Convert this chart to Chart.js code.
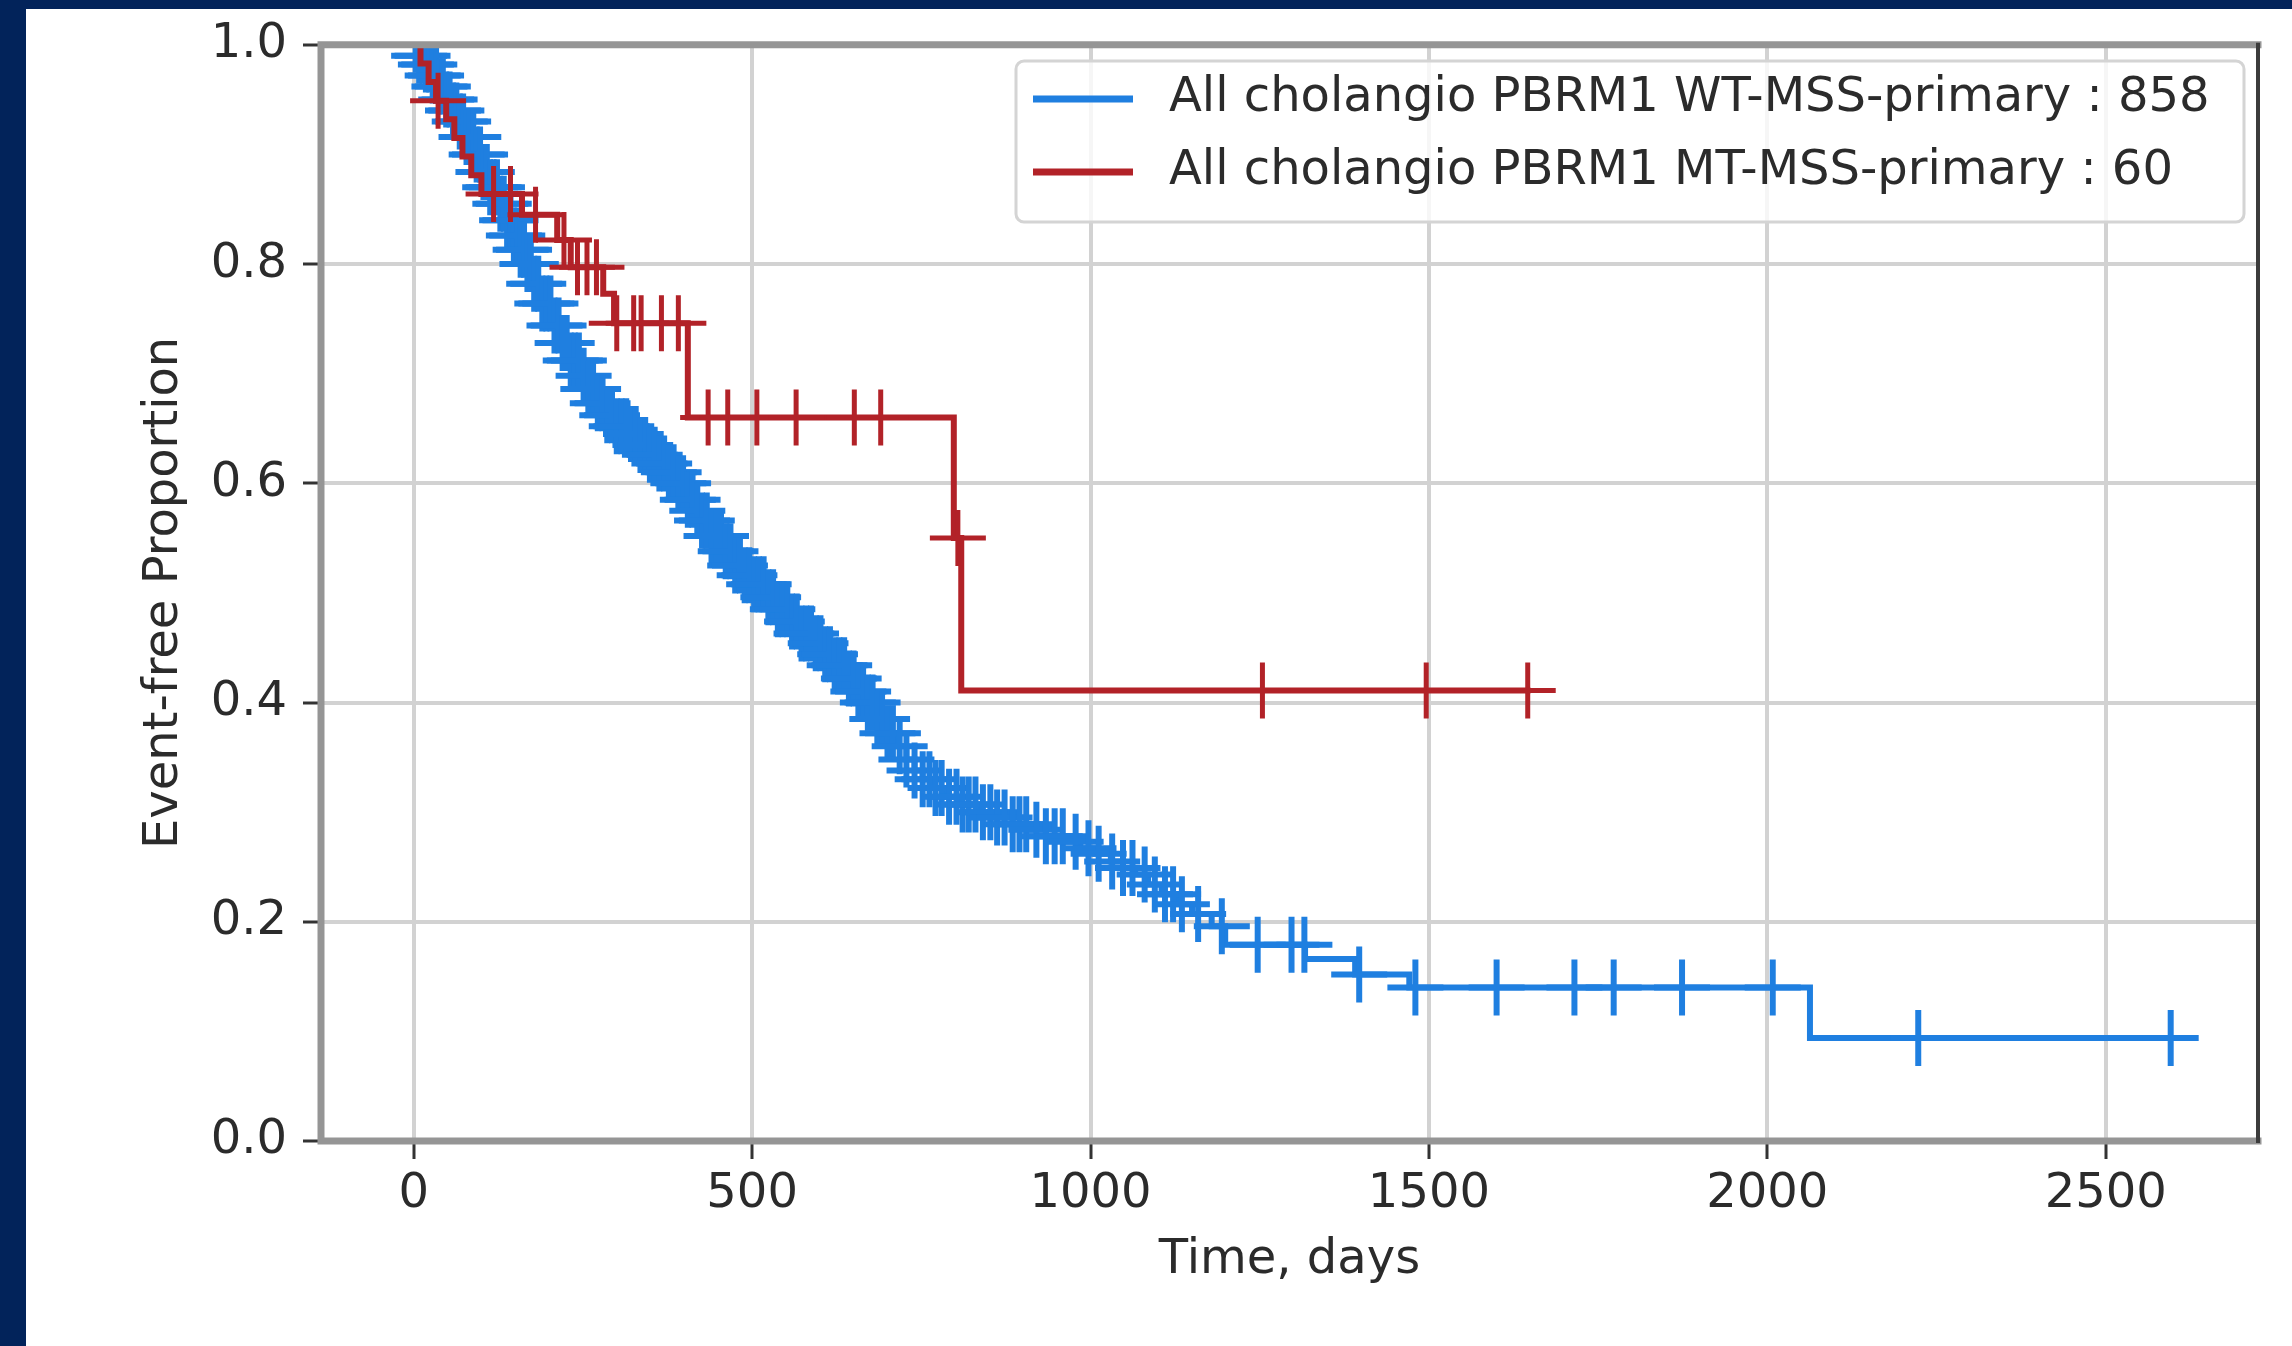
<!DOCTYPE html>
<html>
<head>
<meta charset="utf-8">
<script src="https://cdn.jsdelivr.net/npm/chart.js@4.4.1/dist/chart.umd.min.js"></script>
<style>
  html, body { margin: 0; padding: 0; background: #fff; overflow: hidden; }
  #wrap { position: relative; width: 2292px; height: 1346px; }
  #km { display: block; }
  .bar { position: absolute; background: #02235a; }
  #topbar { left: 0; top: 0; width: 2292px; height: 9px; }
  #leftbar { left: 0; top: 0; width: 26px; height: 1346px; }
</style>
</head>
<body>
<div id="wrap">
  <canvas id="km" width="2292" height="1346"></canvas>
  <div class="bar" id="topbar"></div>
  <div class="bar" id="leftbar"></div>
</div>
<script>
const seriesNames = [
  "All cholangio PBRM1 WT-MSS-primary : 858",
  "All cholangio PBRM1 MT-MSS-primary : 60",
];
const xTicks = [0, 500, 1000, 1500, 2000, 2500];
const yTicks = [0, 0.2, 0.4, 0.6, 0.8, 1.0];

// WT group: step times (days) and event-free proportion from each time on
const blueTimes = [0, 8, 16, 25, 35, 45, 55, 65, 78, 90, 102, 113, 124, 135, 145, 155, 166, 178, 190, 205,
  218, 232, 245, 256, 270, 285, 300, 315, 332, 347, 362, 376, 391, 405, 414, 423, 440, 458, 475, 488,
  501, 520, 538, 555, 572, 590, 606, 622, 638, 655, 670, 685, 700, 714, 728, 740, 752, 765, 787, 810,
  835, 860, 885, 910, 934, 960, 985, 1007, 1030, 1048, 1066, 1085, 1105, 1129, 1150, 1179, 1199, 1317,
  1391, 1471, 2063, 2596];
const blueSurv = [1.0, 0.99, 0.982, 0.972, 0.962, 0.950, 0.940, 0.930, 0.916, 0.900, 0.884, 0.870, 0.855, 0.840, 0.826, 0.813, 0.800, 0.782, 0.764, 0.744,
  0.728, 0.712, 0.698, 0.686, 0.673, 0.662, 0.652, 0.645, 0.635, 0.626, 0.618, 0.610, 0.600, 0.585, 0.575, 0.566, 0.552, 0.538, 0.525, 0.516,
  0.508, 0.496, 0.485, 0.474, 0.463, 0.454, 0.444, 0.434, 0.422, 0.410, 0.400, 0.385, 0.372, 0.360, 0.348, 0.338, 0.330, 0.322, 0.314, 0.307,
  0.300, 0.295, 0.289, 0.284, 0.278, 0.273, 0.267, 0.262, 0.255, 0.249, 0.243, 0.234, 0.225, 0.216, 0.207, 0.196, 0.179, 0.166,
  0.152, 0.140, 0.094, 0.094];
// censored times for WT (dense early on, which gives the thick band)
const blueCensor = [3, 8, 13, 18, 23, 28, 33, 38, 43, 48, 53, 58, 63, 68, 73, 78, 83, 88, 93, 98,
  103, 108, 113, 118, 123, 128, 133, 138, 143, 148, 153, 158, 163, 168, 173, 178, 184, 190, 196, 202,
  208, 214, 220, 226, 232, 238, 244, 251, 258, 265, 272, 279, 286, 293, 300, 307, 314, 321, 328, 335,
  342, 349, 356, 363, 370, 377, 384, 391, 398, 405, 412, 419, 426, 433, 440, 447, 454, 461, 468, 475,
  482, 489, 496, 503, 510, 517, 524, 531, 538, 545, 552, 559, 566, 573, 580, 587, 594, 601, 608, 615,
  622, 629, 636, 643, 650, 657, 664, 671, 678, 685, 692, 700, 708, 718, 728, 740, 752, 762, 771, 780,
  791, 802, 811, 820, 830, 841, 852, 862, 873, 885, 895, 905, 920, 934, 947, 959, 978, 997, 1012, 1032,
  1048, 1062, 1080, 1095, 1110, 1122, 1135, 1159, 1194, 1247, 1297, 1316, 1397, 1480, 1600, 1715, 1773, 1874,
  2008, 2223, 2596];

// MT group
const redTimes = [0, 10, 22, 33, 48, 60, 72, 85, 100, 160, 212, 232, 280, 296, 405, 798, 809, 1650];
const redSurv = [1.0, 0.983, 0.966, 0.949, 0.932, 0.915, 0.898, 0.881, 0.864, 0.845, 0.822, 0.797, 0.773, 0.746, 0.660, 0.550, 0.411, 0.411];
const redCensor = [36, 118, 143, 180, 222, 242, 256, 270, 300, 325, 336, 366, 391, 435, 464, 507, 565, 651, 690, 804, 1254, 1496, 1646];

const BLUE = "#1f7fe0";
const RED = "#b22228";

function steps(times, surv) {
  return times.map((t, i) => ({ x: t, y: surv[i] }));
}
function survAt(times, surv, t) {
  let s = surv[0];
  for (let i = 0; i < times.length; i++) {
    if (times[i] <= t) s = surv[i];
  }
  return s;
}
function marks(times, surv, cens) {
  return cens.map(t => ({ x: t, y: survAt(times, surv, t) }));
}

Chart.defaults.font.family = "'DejaVu Sans', sans-serif";
Chart.defaults.font.size = 48;
Chart.defaults.color = "#2b2b2b";

// spines + legend box, drawn on top of the curves
const framePlugin = {
  id: "frame",
  afterDatasetsDraw(chart) {
    const { ctx, chartArea: a } = chart;
    ctx.save();
    ctx.lineCap = "square";
    ctx.strokeStyle = "#959595";
    ctx.lineWidth = 7;
    ctx.beginPath();
    ctx.moveTo(a.left, a.bottom);
    ctx.lineTo(a.left, a.top);
    ctx.lineTo(a.right, a.top);
    ctx.moveTo(a.left, a.bottom);
    ctx.lineTo(a.right, a.bottom);
    ctx.stroke();
    ctx.strokeStyle = "#3c3c3c";
    ctx.lineWidth = 4;
    ctx.beginPath();
    ctx.moveTo(a.right, a.top);
    ctx.lineTo(a.right, a.bottom);
    ctx.stroke();

    // legend
    ctx.fillStyle = "rgba(255,255,255,0.8)";
    ctx.strokeStyle = "#d4d4d4";
    ctx.lineWidth = 3;
    ctx.beginPath();
    ctx.roundRect(1016, 61, 1228, 161, 8);
    ctx.fill();
    ctx.stroke();
    const rows = [
      { ds: chart.data.datasets[2], y: 99 },
      { ds: chart.data.datasets[0], y: 172 },
    ];
    ctx.font = "48px 'DejaVu Sans'";
    ctx.textBaseline = "middle";
    ctx.textAlign = "left";
    rows.forEach(r => {
      ctx.strokeStyle = r.ds.borderColor;
      ctx.lineWidth = 7;
      ctx.lineCap = "butt";
      ctx.beginPath();
      ctx.moveTo(1033, r.y);
      ctx.lineTo(1133, r.y);
      ctx.stroke();
      ctx.fillStyle = "#2b2b2b";
      ctx.fillText(r.ds.label, 1169, r.y);
    });
    ctx.restore();
  },
};

const gridOpts = {
  color: "#d2d2d2",
  lineWidth: 4,
  tickLength: 18,
  tickColor: "#333",
  tickWidth: 3,
};

new Chart(document.getElementById("km"), {
  type: "scatter",
  data: {
    datasets: [
      {
        label: seriesNames[1],
        data: steps(redTimes, redSurv),
        showLine: true,
        stepped: "before",
        borderColor: RED,
        borderWidth: 6,
        pointRadius: 0,
        order: 1,
      },
      {
        label: "MT censored",
        data: marks(redTimes, redSurv, redCensor),
        showLine: false,
        pointStyle: "cross",
        pointRadius: 28,
        pointBorderWidth: 5,
        borderColor: RED,
        pointBorderColor: RED,
        order: 0,
      },
      {
        label: seriesNames[0],
        data: steps(blueTimes, blueSurv),
        showLine: true,
        stepped: "before",
        borderColor: BLUE,
        borderWidth: 6,
        pointRadius: 0,
        order: 3,
      },
      {
        label: "WT censored",
        data: marks(blueTimes, blueSurv, blueCensor),
        showLine: false,
        pointStyle: "cross",
        pointRadius: 28,
        pointBorderWidth: 6,
        borderColor: BLUE,
        pointBorderColor: BLUE,
        order: 2,
      },
    ],
  },
  options: {
    responsive: false,
    devicePixelRatio: 1,
    animation: false,
    events: [],
    layout: { padding: { top: 37, right: 23, left: 0, bottom: 0 } },
    scales: {
      x: {
        type: "linear",
        min: -137,
        max: 2725,
        afterBuildTicks: s => { s.ticks = xTicks.map(v => ({ value: v })); },
        afterFit: s => { s.height = 205; },
        grid: gridOpts,
        border: { display: false },
        ticks: { padding: 7, maxRotation: 0, autoSkip: false, callback: v => String(v) },
        title: { display: true, text: "Time, days", padding: { top: 0, bottom: 57 } },
      },
      y: {
        min: 0,
        max: 1,
        afterBuildTicks: s => { s.ticks = yTicks.map(v => ({ value: v })); },
        afterFit: s => { s.width = 321; },
        grid: gridOpts,
        border: { display: false },
        ticks: { padding: 16, callback: v => Number(v).toFixed(1) },
        title: { display: true, text: "Event-free Proportion", padding: { top: 136, bottom: 0 } },
      },
    },
    plugins: {
      legend: { display: false },
      tooltip: { enabled: false },
    },
  },
  plugins: [framePlugin],
});
</script>
</body>
</html>
